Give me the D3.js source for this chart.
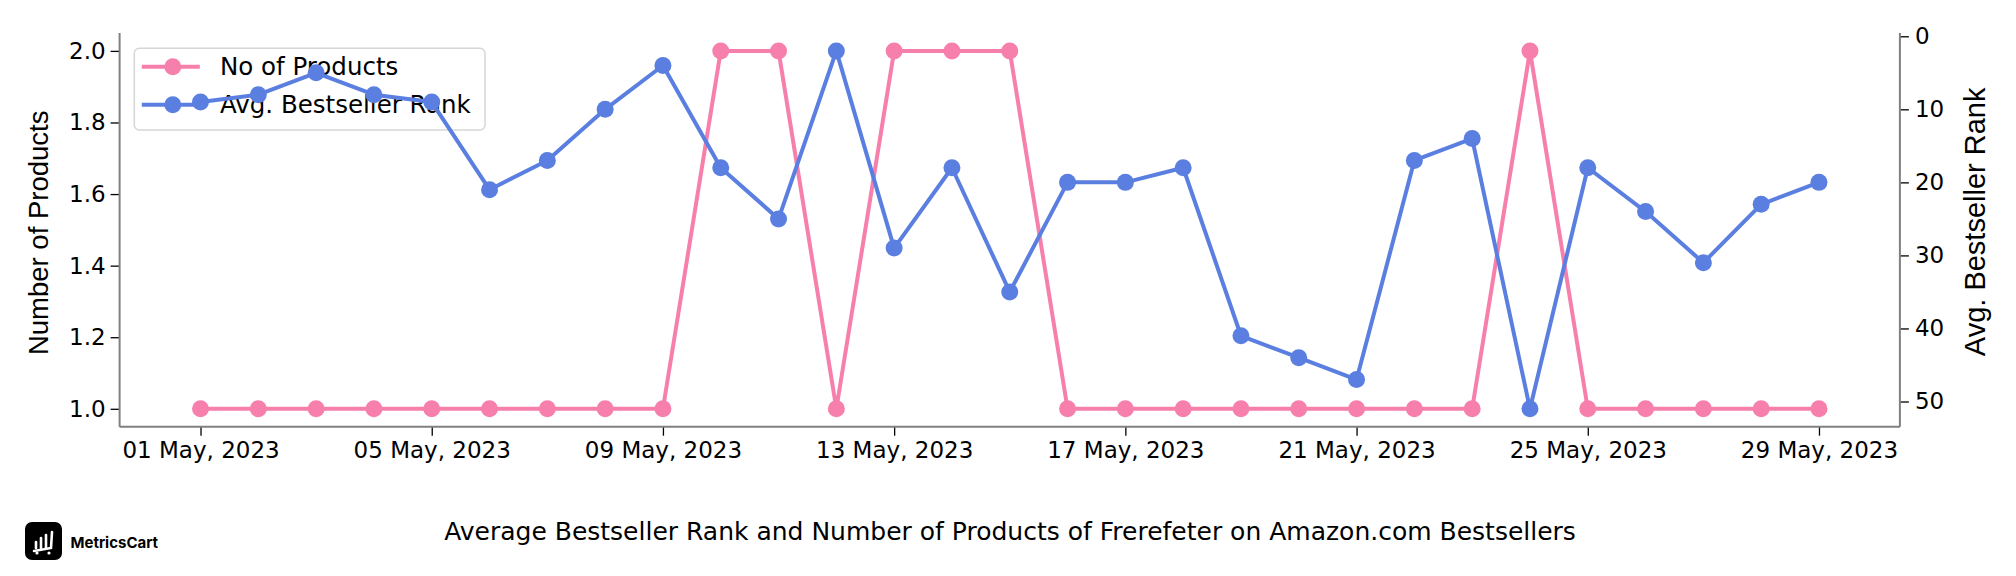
<!DOCTYPE html>
<html>
<head>
<meta charset="utf-8">
<script src="https://cdn.jsdelivr.net/npm/d3@7"></script>
<style>
  html, body { margin: 0; padding: 0; background: #ffffff; }
  svg { display: block; font-family: "DejaVu Sans", sans-serif; }
</style>
</head>
<body>
<script>
// ---- data ----
const dates = ["2023-05-01","2023-05-02","2023-05-03","2023-05-04","2023-05-05","2023-05-06","2023-05-07","2023-05-08","2023-05-09","2023-05-10",
               "2023-05-11","2023-05-12","2023-05-13","2023-05-14","2023-05-15","2023-05-16","2023-05-17","2023-05-18","2023-05-19","2023-05-20",
               "2023-05-21","2023-05-22","2023-05-23","2023-05-24","2023-05-25","2023-05-26","2023-05-27","2023-05-28","2023-05-29"];
const noOfProducts = [1,1,1,1,1,1,1,1,1,2, 2,1,2,2,2,1,1,1,1,1, 1,1,1,2,1,1,1,1,1];
const avgRank      = [9,8,5,8,9,21,17,10,4,18, 25,2,29,18,35,20,20,18,41,44, 47,17,14,51,18,24,31,23,20];
const leftTicks  = [1.0, 1.2, 1.4, 1.6, 1.8, 2.0];
const rightTicks = [0, 10, 20, 30, 40, 50];
const xTickDates = ["2023-05-01","2023-05-05","2023-05-09","2023-05-13","2023-05-17","2023-05-21","2023-05-25","2023-05-29"];
const seriesNames = ["No of Products", "Avg. Bestseller Rank"];
const colors = ["#f77fab", "#5a7fe0"];
const leftLabel = "Number of Products";
const rightLabel = "Avg. Bestseller Rank";
const title = "Average Bestseller Rank and Number of Products of Frerefeter on Amazon.com Bestsellers";
const brand = "MetricsCart";

// ---- layout ----
const W = 2016, H = 576;
const plot = { left: 119.6, right: 1899.9, top: 33, bottom: 426.7 };
const parse = d3.utcParse("%Y-%m-%d");
const dts = dates.map(parse);

const svg = d3.select("body").append("svg").attr("width", W).attr("height", H);

const x0 = dts[0].getTime(), x1 = dts[dts.length - 1].getTime();
const xm = (x1 - x0) * 0.05;
const x = d3.scaleUtc().domain([new Date(x0 - xm), new Date(x1 + xm)]).range([plot.left, plot.right]);
const yL = d3.scaleLinear().domain([0.95, 2.05]).range([plot.bottom, plot.top]);
const rmin = d3.min(avgRank), rmax = d3.max(avgRank), rm = (rmax - rmin) * 0.05;
const yR = d3.scaleLinear().domain([rmin - rm, rmax + rm]).range([plot.top, plot.bottom]);

const fontSize = 23;
const labelFont = "'Liberation Sans', Arial, sans-serif";

// axes
const xAxis = d3.axisBottom(x).tickValues(xTickDates.map(parse)).tickFormat(d3.utcFormat("%d %b, %Y")).tickSize(9).tickPadding(6);
const gx = svg.append("g").attr("transform", `translate(0,${plot.bottom})`).call(xAxis);
const gl = svg.append("g").attr("transform", `translate(${plot.left},0)`).call(d3.axisLeft(yL).tickValues(leftTicks).tickFormat(d3.format(".1f")).tickSize(9).tickPadding(5));
const gr = svg.append("g").attr("transform", `translate(${plot.right},0)`).call(d3.axisRight(yR).tickValues(rightTicks).tickSize(9).tickPadding(6));

[gx, gl, gr].forEach(g => {
  g.selectAll(".domain").remove();
  g.selectAll(".tick line").attr("stroke", "#000").attr("stroke-width", 1.3);
  g.selectAll(".tick text").attr("fill", "#000").style("font-size", fontSize + "px").style("font-family", "'DejaVu Sans', sans-serif");
});

// spines
const spine = svg.append("g").attr("stroke", "#808080").attr("stroke-width", 2).attr("fill", "none");
spine.append("line").attr("x1", plot.left).attr("x2", plot.left).attr("y1", plot.top).attr("y2", plot.bottom);
spine.append("line").attr("x1", plot.right).attr("x2", plot.right).attr("y1", plot.top).attr("y2", plot.bottom);
spine.append("line").attr("x1", plot.left).attr("x2", plot.right).attr("y1", plot.bottom).attr("y2", plot.bottom);

// axis labels
svg.append("text").attr("transform", `translate(38,${(plot.top + plot.bottom) / 2 + 3}) rotate(-90)`)
  .attr("text-anchor", "middle").attr("dominant-baseline", "central")
  .style("font-family", labelFont).style("font-size", "27.5px").text(leftLabel);
svg.append("text").attr("transform", `translate(1975,${(plot.top + plot.bottom) / 2 - 8}) rotate(-90)`)
  .attr("text-anchor", "middle").attr("dominant-baseline", "central")
  .style("font-family", labelFont).style("font-size", "29px").text(rightLabel);

// series 1 (left axis)
const R = 8.5, LW = 4;
const s1 = svg.append("g");
s1.append("path").datum(noOfProducts)
  .attr("d", d3.line().x((d, i) => x(dts[i])).y(d => yL(d)))
  .attr("fill", "none").attr("stroke", colors[0]).attr("stroke-width", LW).attr("stroke-linejoin", "round");
s1.selectAll("circle").data(noOfProducts).join("circle")
  .attr("cx", (d, i) => x(dts[i])).attr("cy", d => yL(d)).attr("r", R).attr("fill", colors[0]);

// legend
const lg = svg.append("g").attr("transform", "translate(134.3,48.3)");
lg.append("rect").attr("width", 350.7).attr("height", 81.7).attr("rx", 5)
  .attr("fill", "#fff").attr("fill-opacity", 0.8).attr("stroke", "#d6d6d6").attr("stroke-width", 1.5);
seriesNames.forEach((n, i) => {
  const yy = 18.5 + i * 38;
  lg.append("line").attr("x1", 7.5).attr("x2", 65.5).attr("y1", yy).attr("y2", yy).attr("stroke", colors[i]).attr("stroke-width", LW);
  lg.append("circle").attr("cx", 38.5).attr("cy", yy).attr("r", R).attr("fill", colors[i]);
  lg.append("text").attr("x", 85.7).attr("y", yy).attr("dominant-baseline", "central").style("font-size", "24.5px").text(n);
});

// series 2 (right axis)
const s2 = svg.append("g");
s2.append("path").datum(avgRank)
  .attr("d", d3.line().x((d, i) => x(dts[i])).y(d => yR(d)))
  .attr("fill", "none").attr("stroke", colors[1]).attr("stroke-width", LW).attr("stroke-linejoin", "round");
s2.selectAll("circle").data(avgRank).join("circle")
  .attr("cx", (d, i) => x(dts[i])).attr("cy", d => yR(d)).attr("r", R).attr("fill", colors[1]);

// title
svg.append("text").attr("x", 1010).attr("y", 531).attr("text-anchor", "middle").attr("dominant-baseline", "central")
  .style("font-size", "25px").text(title);

// brand logo
const logo = svg.append("g").attr("transform", "translate(25,522)");
logo.append("rect").attr("width", 37).attr("height", 38).attr("rx", 7).attr("fill", "#000");
const lw = logo.append("g").attr("stroke", "#fff").attr("stroke-width", 2.6).attr("stroke-linecap", "round").attr("fill", "none");
lw.append("line").attr("x1", 11).attr("x2", 11).attr("y1", 20).attr("y2", 26);
lw.append("line").attr("x1", 16).attr("x2", 16).attr("y1", 16).attr("y2", 26);
lw.append("line").attr("x1", 21).attr("x2", 21).attr("y1", 13).attr("y2", 26);
lw.append("path").attr("d", "M27,10 L26,26 L9,29");
logo.append("circle").attr("cx", 12).attr("cy", 31).attr("r", 1.6).attr("fill", "#fff");
logo.append("circle").attr("cx", 24).attr("cy", 31).attr("r", 1.6).attr("fill", "#fff");
svg.append("text").attr("x", 70.5).attr("y", 542).attr("dominant-baseline", "central")
  .style("font-family", "Inter, sans-serif").style("font-size", "15px").style("font-weight", 700).text(brand);
</script>
</body>
</html>
